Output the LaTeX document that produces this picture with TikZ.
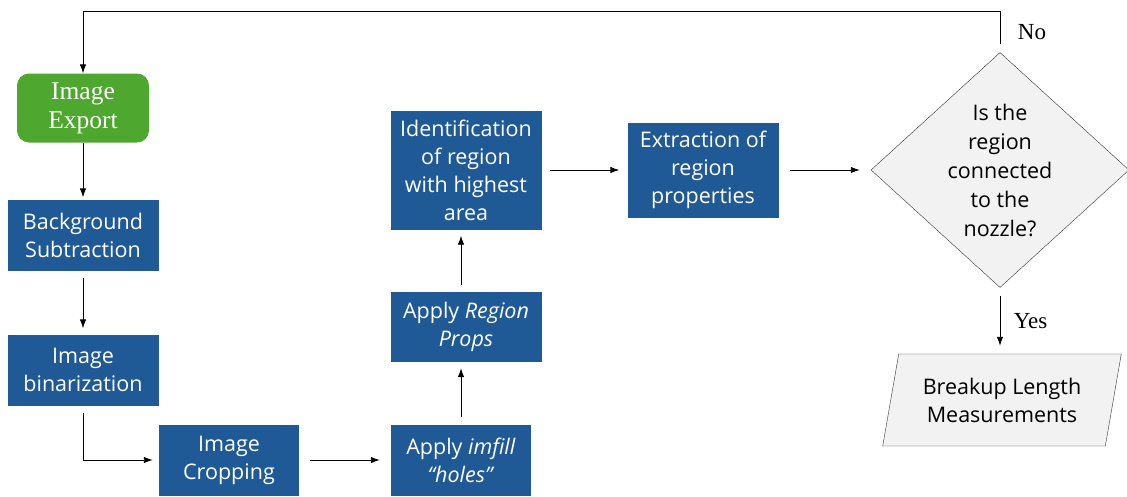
\documentclass[tikz,border=0pt]{standalone}
\usepackage{fontspec}
\setmainfont{Liberation Serif}
\setsansfont{Open Sans}
\usetikzlibrary{shapes.geometric, positioning, arrows.meta}
\definecolor{boxblue}{HTML}{1F5A96}
\definecolor{exportgreen}{HTML}{4EA72E}
\definecolor{shapegray}{HTML}{F2F2F2}
\tikzstyle{stepbox} = [rectangle, fill=boxblue, text=white,
font=\sffamily\fontsize{21.5}{28}\selectfont, align=center,
minimum width = 151, minimum height = 71,
inner sep = 1pt]
\tikzstyle{startbox} = [rectangle, rounded corners = 12pt,
fill=exportgreen, text=white, align=center,
font=\fontsize{25.5}{29}\selectfont,
minimum width = 132, minimum height = 69]
\tikzstyle{decision} = [diamond, draw=black!80, fill=shapegray,
font=\sffamily\fontsize{21.5}{29}\selectfont, align=center,
inner sep = -10pt, shape aspect = 1.1,
minimum width = 258, minimum height = 235]
\tikzstyle{iobox} = [trapezium, draw=black!80, fill=shapegray,
trapezium left angle = 76, trapezium right angle = 104,
trapezium stretches = true,
font=\sffamily\fontsize{21.5}{28}\selectfont, align=center,
minimum width = 239, minimum height = 92]
\tikzstyle{arr} = [-{Latex[length=9pt, width=6.5pt]}, line width=0.9pt,
shorten <=7pt, shorten >=6pt]
\tikzstyle{answer} = [font=\fontsize{23}{25}\selectfont]

\begin{document}
\begin{tikzpicture}[x=1pt, y=-1pt]
	\useasboundingbox (0, 0) rectangle (1127, 496);
	\coordinate (a) at (83, 108);
	\coordinate (b) at (83, 235);
	\coordinate (c) at (83, 370);
	\coordinate (d) at (229, 460);
	\coordinate (e) at (461, 460);
	\coordinate (f) at (466, 327);
	\coordinate (g) at (466, 170);
	\coordinate (h) at (703, 170);
	\coordinate (i) at (1000, 170);
	\coordinate (j) at (1002, 400);
	\coordinate (top) at (0, 11);
	\node[startbox](export) at (a) {Image\\Export};
	\node[stepbox](bgsub) at (b) {Background\\Subtraction};
	\node[stepbox](binar) at (c) {Image\\binarization};
	\node[stepbox, minimum width = 140](crop) at (d) {Image\\Cropping};
	\node[stepbox, minimum width = 140](imfill) at (e) {Apply \textit{imfill}\\\textit{``holes''}};
	\node[stepbox, minimum height = 70](props) at (f) {Apply \textit{Region}\\\textit{Props}};
	\node[stepbox, minimum height = 119](ident) at (g) {Identification\\of region\\with highest\\area};
	\node[stepbox, minimum height = 95](extract) at (h) {Extraction of\\region\\properties};
	\node[decision](check) at (i) {Is the\\region\\connected\\to the\\nozzle?};
	\node[iobox](measure) at (j) {Breakup Length\\Measurements};
	%% main chain
	\draw[arr, shorten <=0pt, shorten >=2pt] (export) -- (bgsub);
	\draw[arr] (bgsub) -- (binar);
	\draw[arr] (binar.south) |- (crop.west);
	\draw[arr, shorten <=11pt, shorten >=11pt] (crop) -- (imfill);
	\draw[arr] (imfill.north) -- (imfill.north |- props.south);
	\draw[arr] (imfill.north |- props.north) -- (imfill.north |- ident.south);
	\draw[arr, shorten <=8pt, shorten >=8pt] (ident) -- (extract);
	\draw[arr, shorten <=11pt, shorten >=11pt] (extract) -- (check);
	%% decision outcomes
	\draw[arr, shorten <=8pt, shorten >=8pt] (check.south) -- (check.south |- measure.north)
		node[answer, midway, right=10pt] (yes) {Yes};
	\draw[arr, shorten <=8pt, shorten >=0pt] (check.north) -- (check.north |- top) -| (export.north);
	\node[answer] (no) at (1032, 32) {No};
\end{tikzpicture}
\end{document}
